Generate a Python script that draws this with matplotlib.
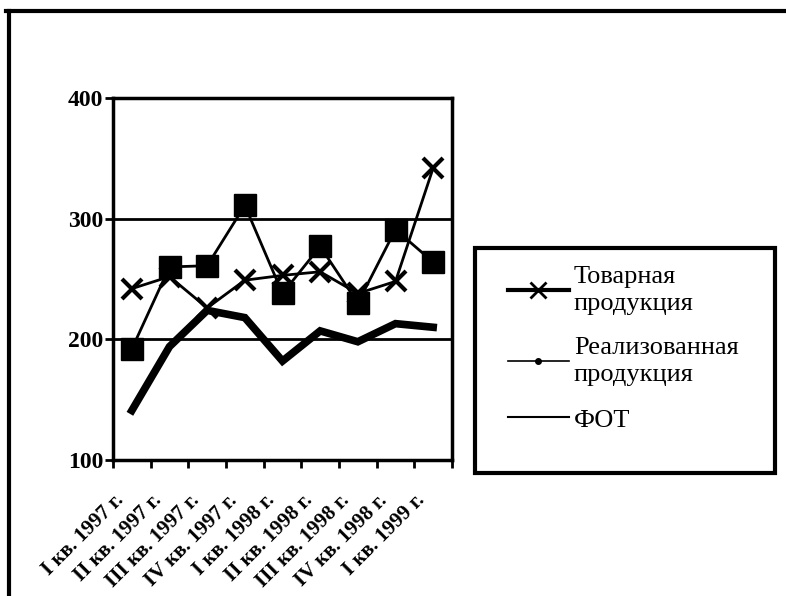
import matplotlib.pyplot as plt
from matplotlib.lines import Line2D
from matplotlib.patches import Rectangle
import matplotlib.transforms as mtransforms

quarters = ['I кв. 1997 г.', 'II кв. 1997 г.', 'III кв. 1997 г.', 'IV кв. 1997 г.',
            'I кв. 1998 г.', 'II кв. 1998 г.', 'III кв. 1998 г.', 'IV кв. 1998 г.',
            'I кв. 1999 г.']
tovarnaya = [242, 252, 226, 249, 253, 256, 238, 248, 342]
realizovannaya = [192, 260, 261, 311, 238, 277, 230, 291, 264]
fot = [141, 194, 224, 218, 182, 207, 198, 213, 210]

plt.rcParams['font.family'] = ['Liberation Serif', 'DejaVu Serif']

fig = plt.figure(figsize=(7.86, 5.96), dpi=100)
W, H = 786, 596
ax = fig.add_axes([113 / W, 1 - 460 / H, (452 - 113) / W, (460 - 98) / H])

x = list(range(len(quarters)))
ax.plot(x, fot, color='black', lw=5.5, solid_joinstyle='miter', zorder=3)
ax.plot(x, tovarnaya, color='black', lw=2, marker='x', ms=15, mew=3, zorder=4)
ax.plot(x, realizovannaya, color='black', lw=2, marker='s', ms=16, zorder=5)

ax.set_xlim(-0.5, len(quarters) - 0.5)
ax.set_ylim(100, 400)
ax.set_yticks([100, 200, 300, 400])
ax.set_yticklabels(['100', '200', '300', '400'], fontweight='bold', fontsize=17)
ax.tick_params(axis='y', pad=1)
for y in (200, 300):
    ax.axhline(y, color='black', lw=2, zorder=2)

# ticks between categories, labels at category centres
ax.set_xticks([i - 0.5 for i in range(len(quarters) + 1)])
ax.set_xticklabels([])
ax.set_xticks(x, minor=True)
ax.set_xticklabels(quarters, minor=True, rotation=45, ha='right', va='center',
                   rotation_mode='anchor', fontweight='bold', fontsize=15)
ax.tick_params(axis='x', which='minor', length=0, pad=27)
ax.tick_params(axis='both', which='major', direction='out', length=6, width=2, color='black')
off = mtransforms.ScaledTranslation(-11 / 100, 0, fig.dpi_scale_trans)
for lab in ax.get_xticklabels(minor=True):
    lab.set_transform(lab.get_transform() + off)

for s in ax.spines.values():
    s.set_linewidth(2.5)
    s.set_color('black')

# legend: box drawn separately, entries placed inside
fig.add_artist(Rectangle((475 / W, 1 - 473 / H), 300 / W, 225 / H, fill=False,
                         edgecolor='black', lw=3, transform=fig.transFigure))
handles = [
    Line2D([], [], color='black', lw=3, marker='x', ms=12, mew=2),
    Line2D([], [], color='black', lw=1.2, marker='o', ms=4),
    Line2D([], [], color='black', lw=1.5),
]
labels = ['Товарная\nпродукция', 'Реализованная\nпродукция', 'ФОТ']
leg = fig.legend(handles, labels, loc='upper left',
                 bbox_to_anchor=(508 / W, 1 - 266 / H), fontsize=19,
                 frameon=False, handlelength=2.3, handletextpad=0.2,
                 borderpad=0, borderaxespad=0, labelspacing=0.85)
for t in leg.get_texts():
    t.set_linespacing(1.27)

# outer chart border (top and left edges visible in the scan)
fig.add_artist(Line2D([6 / W, 1], [1 - 11 / H, 1 - 11 / H], color='black', lw=3,
                      transform=fig.transFigure))
fig.add_artist(Line2D([9 / W, 9 / W], [0, 1 - 11 / H], color='black', lw=3,
                      transform=fig.transFigure))

fig.savefig('out.png', dpi=100)
